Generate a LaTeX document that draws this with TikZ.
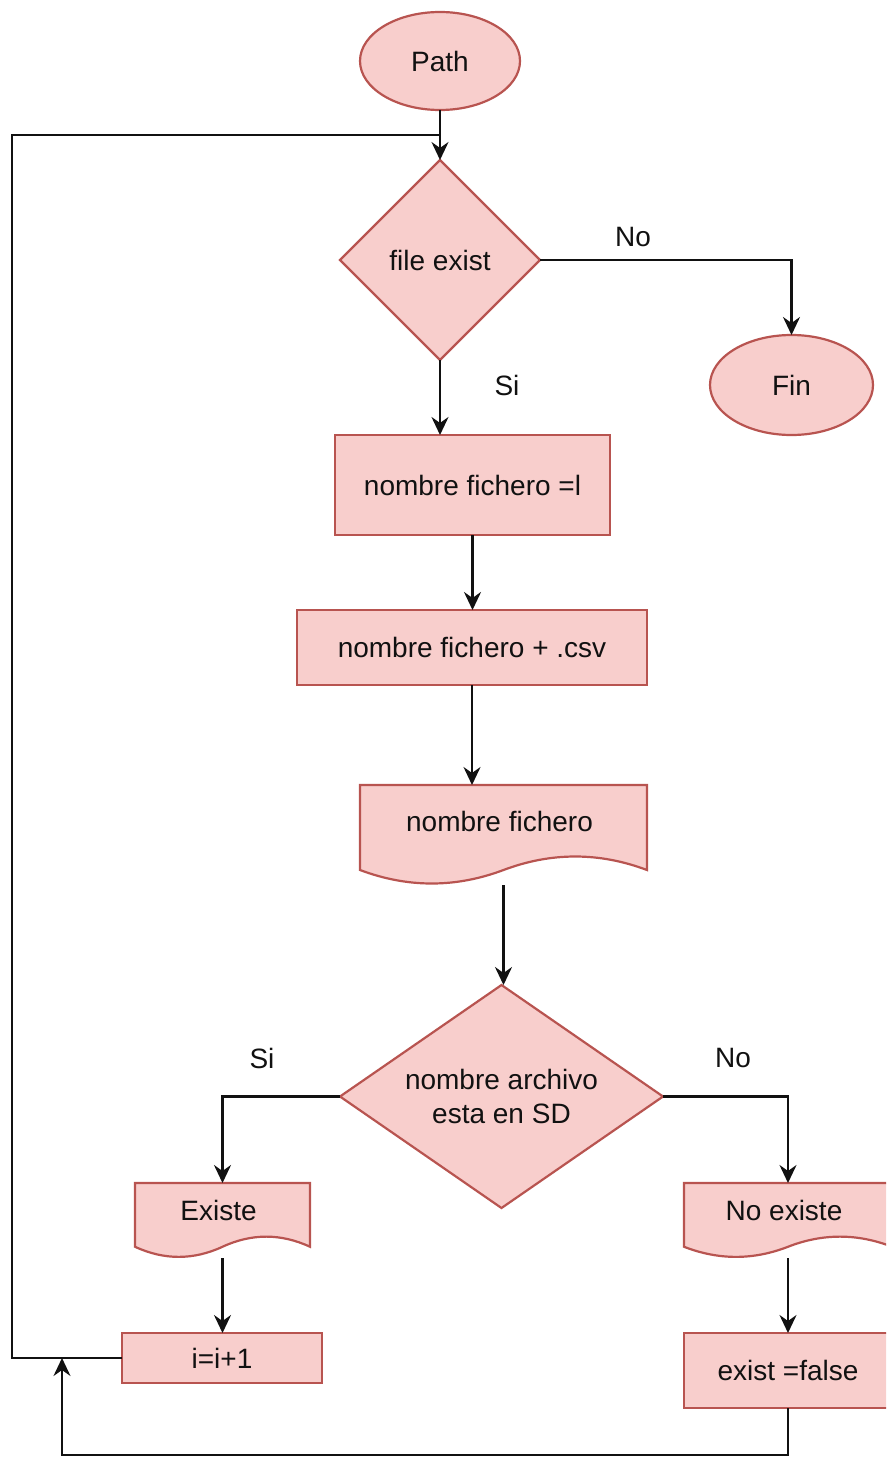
\documentclass[tikz,border=0pt]{standalone}
\usepackage{fontspec}
\setmainfont{Liberation Sans}
\usetikzlibrary{arrows.meta,shapes.geometric}
\definecolor{boxfill}{HTML}{F8CECC}
\definecolor{boxline}{HTML}{B85450}
\definecolor{ink}{HTML}{111111}

\tikzset{
  every node/.style={font=\fontsize{28}{34}\selectfont, text=ink},
  flowbox/.style={rectangle, draw=boxline, fill=boxfill, line width=2.2pt,
    inner sep=0pt, outer sep=0pt, align=center},
  terminal/.style={ellipse, draw=boxline, fill=boxfill, line width=2.2pt,
    inner sep=0pt, outer sep=0pt},
  decision/.style={diamond, draw=boxline, fill=boxfill, line width=2.2pt,
    inner sep=0pt, outer sep=0pt, align=center},
  docshape/.style={draw=boxline, fill=boxfill, line width=2.2pt},
  docframe/.style={rectangle, inner sep=0pt, outer sep=0pt},
  txt/.style={inner sep=0pt, align=center},
  tag/.style={inner sep=0pt},
  link/.style={draw=ink, line width=2.5pt},
  flow/.style={link, -{Stealth[length=18pt,width=17pt,inset=6pt]}}
}

% document symbol: flat top, wavy bottom; #1 name, #2..#5 bounds (x0,y0,x1,y1), #6 text
\newcommand\docnode[6]{%
  \filldraw[docshape] (#2,#3) -- (#4,#3) -- (#4,{#3+0.85*(#5-#3)})
    .. controls ({#2+5*(#4-#2)/6},{#3+0.67*(#5-#3)}) and ({#2+2*(#4-#2)/3},{#3+0.67*(#5-#3)})
    .. ({(#2+#4)/2},{#3+0.85*(#5-#3)})
    .. controls ({#2+(#4-#2)/3},{#3+1.03*(#5-#3)}) and ({#2+(#4-#2)/6},{#3+1.03*(#5-#3)})
    .. (#2,{#3+0.85*(#5-#3)}) -- cycle;
  \node[docframe, minimum width={(#4-#2)*1pt}, minimum height={(#5-#3)*1pt}]
    (#1) at ({(#2+#4)/2},{(#3+#5)/2}) {};
  \node[txt] (#1-text) at ({(#2+#4)/2-4},{#3+0.36*(#5-#3)}) {#6};
}

\begin{document}
\begin{tikzpicture}[x=1pt,y=-1pt]
\clip (0,0) rectangle (886,1458);

% shapes
\node[terminal, minimum width=160pt, minimum height=98pt] (path) at (440,61) {Path};
\node[decision, minimum width=200pt, minimum height=200pt] (fe) at (440,260) {file exist};
\node[terminal, minimum width=163pt, minimum height=100pt] (fin) at (791.5,385) {Fin};
\node[flowbox, minimum width=275pt, minimum height=100pt] (name) at (472.5,485) {nombre fichero =l};
\node[flowbox, minimum width=350pt, minimum height=75pt] (csv) at (472,647.5) {nombre fichero + .csv};
\docnode{doc}{360}{785}{647}{885}{nombre fichero}
\node[decision, aspect=1.45, minimum width=323pt, minimum height=223pt] (sd) at (501.5,1096.5) {nombre archivo\\esta en SD};
\docnode{yes}{135}{1183}{310}{1258}{Existe}
\docnode{no}{684}{1183}{892}{1258}{No existe}
\node[flowbox, minimum width=200pt, minimum height=50pt] (inc) at (222,1358) {i=i+1};
\node[flowbox, minimum width=208pt, minimum height=75pt] (ef) at (788,1370.5) {exist =false};

% free ends of the loop lines
\coordinate (looptop) at (12,135);
\coordinate (join) at (440,135);
\coordinate (botleft) at (62,1455);
\coordinate (ret) at (62,1358);

% connectors
\draw[flow] (path.south) -- (fe.north);
\draw[link] (inc.west) -| (looptop) -- (join);
\draw[flow] (fe.east) -| (fin.north);
\draw[flow] (fe.south) -- (fe.south |- name.north);
\draw[flow] (name.south) -- (name.south |- csv.north);
\draw[flow] (csv.south) -- (csv.south |- doc.north);
\draw[flow] (doc.south) -- (doc.south |- sd.north);
\draw[flow] (sd.west) -| (yes.north);
\draw[flow] (sd.east) -| (no.north);
\draw[flow] (yes.south) -- (yes.south |- inc.north);
\draw[flow] (no.south) -- (ef.north);
\draw[flow] (ef.south) |- (botleft) -- (ret);

% branch labels
\node[tag] (l-no1) at (633,237) {No};
\node[tag] (l-si1) at (507,385) {Si};
\node[tag] (l-si2) at (262,1058) {Si};
\node[tag] (l-no2) at (733,1058) {No};
\end{tikzpicture}
\end{document}
